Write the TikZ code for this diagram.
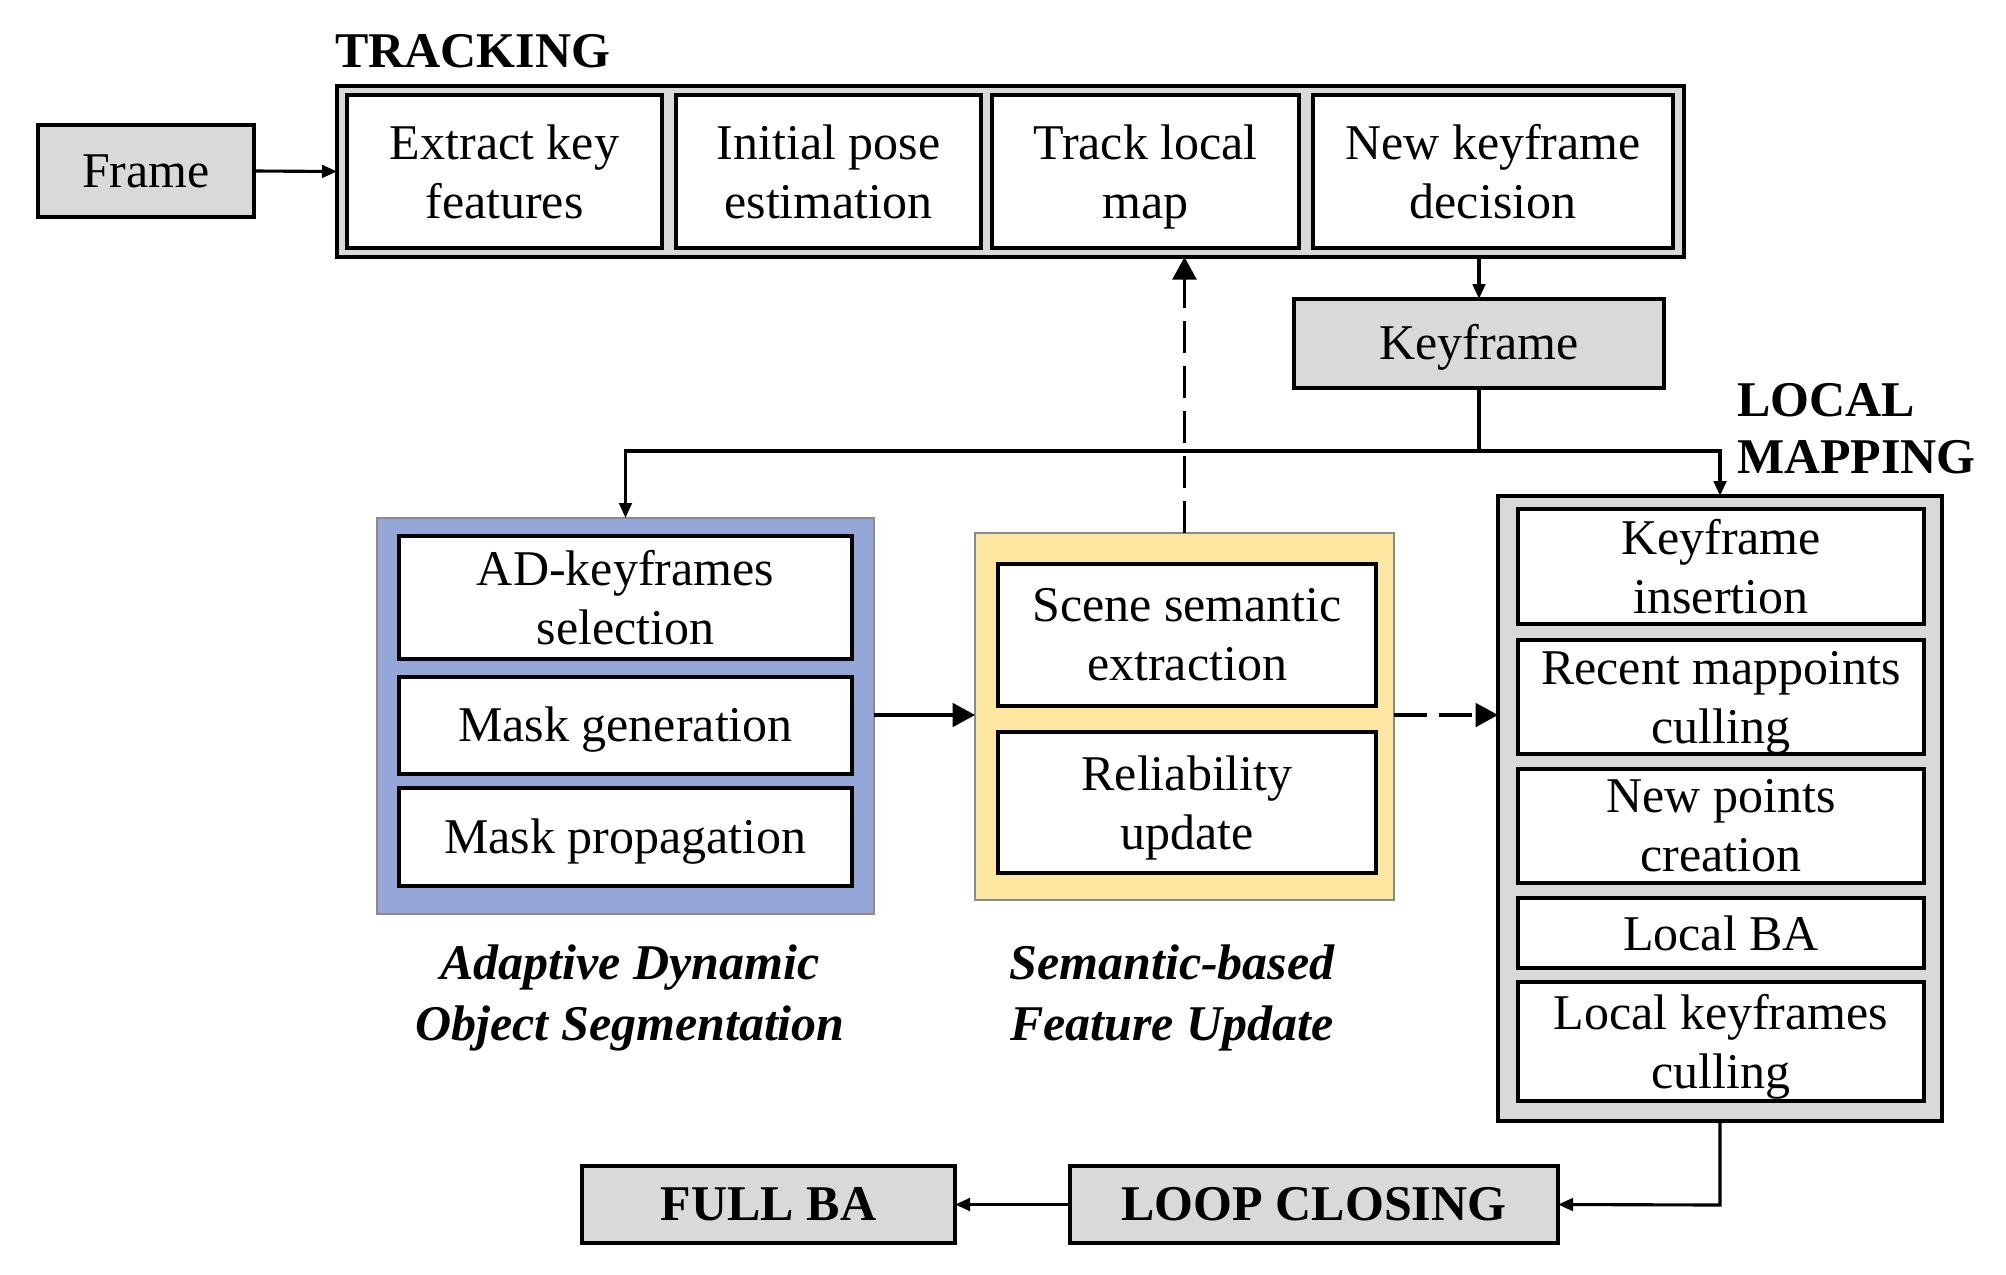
\documentclass[tikz,border=0pt]{standalone}
\usepackage{fontspec}
\setmainfont{Liberation Serif}
\usetikzlibrary{arrows.meta}
\definecolor{boxgray}{HTML}{D9D9D9}
\definecolor{adblue}{HTML}{95A7D8}
\definecolor{sfyellow}{HTML}{FCE6A0}
\definecolor{edgegray}{HTML}{8A8A8A}
\begin{document}
\begin{tikzpicture}[x=0.4pt,y=-0.4pt,
  every node/.style={font=\fontsize{20pt}{23.6pt}\selectfont, inner sep=0pt, outer sep=0pt},
  sz/.style 2 args={minimum width=#1*0.4pt, minimum height=#2*0.4pt},
  whitebox/.style={draw=black, line width=1.5pt, fill=white, align=center},
  graybox/.style={draw=black, line width=1.5pt, fill=boxgray, align=center},
  panel/.style={draw=edgegray, line width=1pt},
  conn/.style={line width=1.25pt},
  smalltip/.style={-{Triangle[length=6pt,width=5pt]}},
  bigtip/.style={-{Triangle[length=9pt,width=9.5pt]}},
  dashline/.style={dash pattern=on 13pt off 5pt}
]
\useasboundingbox (0,0) rectangle (2006,1274);

% TRACKING
\node[anchor=base west] (trklbl) at (335,67) {\bfseries TRACKING};
\node[graybox, sz={1347}{171}] (trk) at (1010.5,171.5) {};
\node[whitebox, sz={315}{153}] (t1) at (504.5,171.5) {Extract key\\features};
\node[whitebox, sz={305}{153}] (t2) at (828.5,171.5) {Initial pose\\estimation};
\node[whitebox, sz={307}{153}] (t3) at (1145.5,171.5) {Track local\\\smash{map}};
\node[whitebox, sz={360}{153}] (t4) at (1493,171.5) {New keyframe\\decision};

\node[graybox, sz={216}{92}] (frame) at (146,171) {Frame};
\node[graybox, sz={370}{89}] (kf) at (1479,343.5) {\smash{Keyframe}\vphantom{K}};

% Adaptive Dynamic Object Segmentation
\node[panel, fill=adblue, sz={497}{396}] (blue) at (625.5,716) {};
\node[whitebox, sz={453}{123}] (a1) at (625.5,597.5) {AD-keyframes\\selection};
\node[whitebox, sz={453}{97}] (a2) at (625.5,725.5) {\smash{Mask generation}\vphantom{M}};
\node[whitebox, sz={453}{98}] (a3) at (625.5,837) {\smash{Mask propagation}\vphantom{M}};
\node[anchor=north, align=center, font=\fontsize{20pt}{24.4pt}\selectfont\bfseries\itshape] (adlbl) at (630,945) {Adaptive Dynamic\\Object Segmentation};

% Semantic-based Feature Update
\node[panel, fill=sfyellow, sz={419}{367}] (yel) at (1184.5,716.5) {};
\node[whitebox, sz={378}{142}] (s1) at (1187,635) {Scene semantic\\extraction};
\node[whitebox, sz={378}{141}] (s2) at (1187,802.5) {Reliability\\\smash{update}};
\node[anchor=north, align=center, font=\fontsize{20pt}{24.4pt}\selectfont\bfseries\itshape] (sflbl) at (1172,945) {Semantic-based\\Feature Update};

% LOCAL MAPPING
\node[anchor=north west, align=left, font=\fontsize{20pt}{23pt}\selectfont\bfseries] (lmlbl) at (1737,383) {LOCAL\\MAPPING};
\node[graybox, sz={444}{625}] (loc) at (1720,808.5) {};
\node[whitebox, sz={406}{115}] (l1) at (1721,566.5) {Keyframe\\insertion};
\node[whitebox, sz={406}{114}] (l2) at (1721,697) {Recent mappoints\\\smash{culling}};
\node[whitebox, sz={406}{114}] (l3) at (1721,826) {New points\\creation};
\node[whitebox, sz={406}{70}] (l4) at (1721,933) {Local BA};
\node[whitebox, sz={406}{119}] (l5) at (1721,1041.5) {Local keyframes\\\smash{culling}};

% bottom
\node[graybox, sz={373}{77}] (fba) at (768.5,1204.5) {\raisebox{-1.2pt}{\bfseries FULL BA}};
\node[graybox, sz={488}{77}] (loop) at (1314,1204.5) {\raisebox{-1.2pt}{\bfseries LOOP CLOSING}};

% connectors
\draw[conn, smalltip] (frame.east) -- (trk.west);
\draw[conn, smalltip] (trk.south -| kf.north) -- (kf.north);
\coordinate (j) at (1479,451);
\draw[conn] (kf.south) -- (j);
\draw[conn, smalltip] (j) -| (blue.north);
\draw[conn, smalltip] (j) -| (loc.north);
\draw[conn, dashline, bigtip] (yel.north) -- (yel.north |- trk.south);
\draw[conn, bigtip] (blue.east |- 0,715) -- (yel.west |- 0,715);
\draw[conn, dashline, bigtip] (yel.east |- 0,715) -- (loc.west |- 0,715);
\coordinate (lc) at (1720,1205);
\draw[conn, smalltip] (loc.south) -- (lc) -- (loop.east);
\draw[conn, smalltip] (loop.west) -- (fba.east);
\end{tikzpicture}
\end{document}
